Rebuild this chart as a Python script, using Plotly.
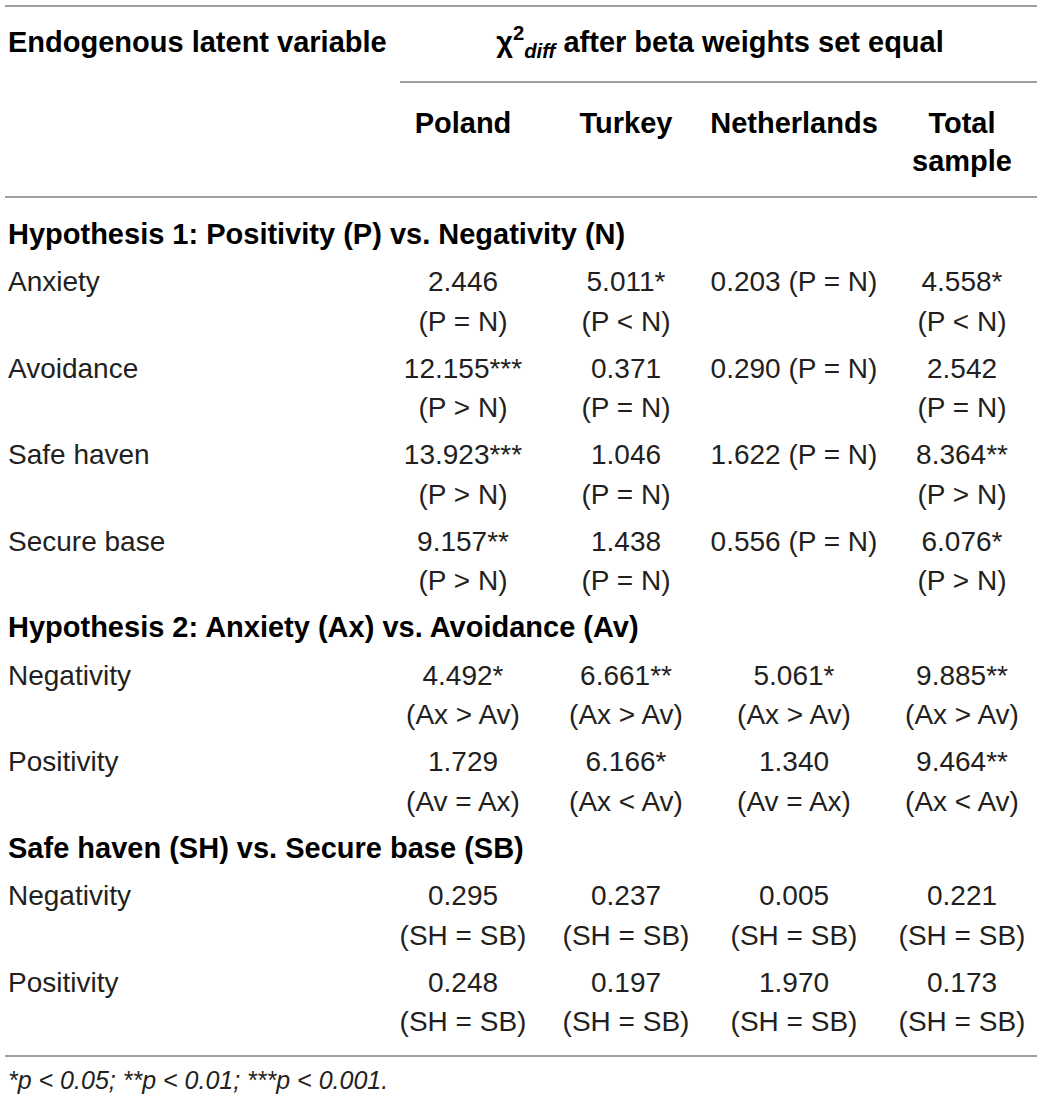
import plotly.graph_objects as go

# table content
row_labels = ["Anxiety", "Avoidance", "Safe haven", "Secure base",
              "Negativity", "Positivity",
              "Negativity", "Positivity"]
section_titles = ["Hypothesis 1: Positivity (P) vs. Negativity (N)",
                  "Hypothesis 2: Anxiety (Ax) vs. Avoidance (Av)",
                  "Safe haven (SH) vs. Secure base (SB)"]
rows_per_section = [4, 2, 2]
columns = ["Poland", "Turkey", "Netherlands", "Total<br>sample"]

poland_chi = ["2.446", "12.155***", "13.923***", "9.157**", "4.492*", "1.729", "0.295", "0.248"]
poland_cmp = ["(P = N)", "(P > N)", "(P > N)", "(P > N)", "(Ax > Av)", "(Av = Ax)", "(SH = SB)", "(SH = SB)"]
turkey_chi = ["5.011*", "0.371", "1.046", "1.438", "6.661**", "6.166*", "0.237", "0.197"]
turkey_cmp = ["(P < N)", "(P = N)", "(P = N)", "(P = N)", "(Ax > Av)", "(Ax < Av)", "(SH = SB)", "(SH = SB)"]
netherlands_chi = ["0.203 (P = N)", "0.290 (P = N)", "1.622 (P = N)", "0.556 (P = N)", "5.061*", "1.340", "0.005", "1.970"]
netherlands_cmp = ["", "", "", "", "(Ax > Av)", "(Av = Ax)", "(SH = SB)", "(SH = SB)"]
total_chi = ["4.558*", "2.542", "8.364**", "6.076*", "9.885**", "9.464**", "0.221", "0.173"]
total_cmp = ["(P < N)", "(P = N)", "(P > N)", "(P > N)", "(Ax > Av)", "(Ax < Av)", "(SH = SB)", "(SH = SB)"]

header_left = "Endogenous latent variable"
header_span = "χ<sup>2</sup><sub><i>diff</i></sub> after beta weights set equal"
footnote = "*p < 0.05; **p < 0.01; ***p < 0.001."

W, H = 1043, 1106
FONT = "Liberation Sans, Arial, Helvetica, sans-serif"
TXT = "#231f20"
RULE = "#a0a0a0"
SIZE = 28
BSIZE = 29
col_x = [463, 626, 794, 962]
label_x = 8
DY = 2.5  # text sits a little high relative to its anchor


def esc(s):
    return s.replace("<", "&lt;").replace(">", "&gt;")


# vertical layout of the body
title_y, row_y = [], []
y = 234
for n in rows_per_section:
    title_y.append(y)
    y += 47.5
    for _ in range(n):
        row_y.append(y)
        y += 86.5
line_gap = 39.5
cmp_y = [v + line_gap for v in row_y]

fig = go.Figure()


def text_trace(xs, ys, texts, pos, bold=False, size=SIZE, color=TXT):
    keep = [(a, b + DY, t) for a, b, t in zip(xs, ys, texts) if t]
    fig.add_trace(go.Scatter(
        x=[k[0] for k in keep], y=[k[1] for k in keep],
        text=[("<b>%s</b>" % k[2]) if bold else k[2] for k in keep],
        mode="text", textposition=pos, hoverinfo="skip", showlegend=False,
        cliponaxis=False,
        textfont=dict(family=FONT, size=size, color=color),
    ))


# section titles and row labels
text_trace([label_x] * len(title_y), title_y, section_titles, "middle right",
           bold=True, size=BSIZE, color="#000")
text_trace([label_x] * len(row_y), row_y, row_labels, "middle right")

# cells
for cx, chi, cmp in zip(col_x,
                        [poland_chi, turkey_chi, netherlands_chi, total_chi],
                        [poland_cmp, turkey_cmp, netherlands_cmp, total_cmp]):
    text_trace([cx] * len(chi), row_y, [esc(c) for c in chi], "middle center")
    text_trace([cx] * len(cmp), cmp_y, [esc(c) for c in cmp], "middle center")

# headers
text_trace([label_x], [42], [header_left], "middle right", bold=True, size=BSIZE, color="#000")
text_trace([720], [42], [header_span], "middle center", bold=True, size=BSIZE, color="#000")
for cx, c in zip(col_x, columns):
    text_trace([cx], [142 if "<br>" in c else 123], [c], "middle center",
               bold=True, size=BSIZE, color="#000")

# footnote
text_trace([label_x], [1080], ["<i>%s</i>" % esc(footnote)], "middle right", size=25)

# horizontal rules
for x0, yy in [(5, 6), (400, 82), (5, 197), (5, 1056)]:
    fig.add_shape(type="line", x0=x0, x1=1037, y0=yy, y1=yy, xref="x", yref="y",
                  line=dict(color=RULE, width=2))

fig.update_layout(
    width=W, height=H, margin=dict(l=0, r=0, t=0, b=0),
    paper_bgcolor="white", plot_bgcolor="white",
    xaxis=dict(range=[0, W], visible=False, fixedrange=True),
    yaxis=dict(range=[H, 0], visible=False, fixedrange=True),
)

# drop the default body margin so the figure sits at the page corner
fig.write_html("out.html", config={"displayModeBar": False},
               post_script="document.body.style.margin='0';")
